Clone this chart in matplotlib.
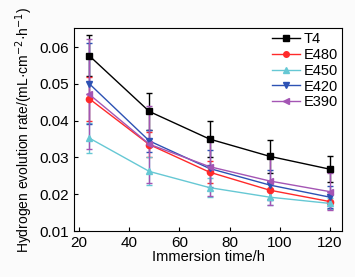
import matplotlib
matplotlib.use("Agg")
import matplotlib.pyplot as plt
from matplotlib.lines import Line2D

plt.rcParams.update({
    "font.family": ["Liberation Sans", "DejaVu Sans"],
    "font.size": 10,
    "xtick.direction": "in",
    "ytick.direction": "in",
    "axes.linewidth": 0.8,
})

times = [24, 48, 72, 96, 120]

t4 = [0.0577, 0.0425, 0.0350, 0.0303, 0.0268]
t4_err = [0.0055, 0.0050, 0.0050, 0.0045, 0.0035]

e480 = [0.0460, 0.0335, 0.0260, 0.0211, 0.0180]
e480_err = [0.0060, 0.0035, 0.0030, 0.0025, 0.0020]

e450 = [0.0353, 0.0262, 0.0218, 0.0192, 0.0175]
e450_err = [0.0042, 0.0038, 0.0025, 0.0020, 0.0015]

e420 = [0.0501, 0.0345, 0.0270, 0.0225, 0.0192]
e420_err = [0.0110, 0.0030, 0.0050, 0.0040, 0.0030]

e390 = [0.0472, 0.0336, 0.0275, 0.0236, 0.0207]
e390_err = [0.0150, 0.0105, 0.0080, 0.0065, 0.0050]

series = [
    ("T4", t4, t4_err, "black", "s"),
    ("E480", e480, e480_err, "#ff2a2a", "o"),
    ("E450", e450, e450_err, "#66c8d4", "^"),
    ("E420", e420, e420_err, "#2d52b4", "v"),
    ("E390", e390, e390_err, "#a455b4", "<"),
]

fig = plt.figure(figsize=(3.55, 2.77), dpi=100)
fig.patch.set_facecolor("#fbfbfb")
ax = fig.add_axes([0.2085, 0.166, 0.755, 0.733])

handles = []
for label, vals, errs, color, marker in series:
    ax.errorbar(times, vals, yerr=errs, color=color, marker=marker,
                markersize=4.5, linewidth=1.0, elinewidth=1.0,
                capsize=2.5, capthick=1.0)
    handles.append(Line2D([], [], color=color, marker=marker,
                          markersize=4, linewidth=1.0, label=label))

ax.set_xlim(18, 124.8)
ax.set_ylim(0.01, 0.0652)
ax.set_xticks([20, 40, 60, 80, 100, 120])
ax.set_yticks([0.01, 0.02, 0.03, 0.04, 0.05, 0.06])
ax.set_yticklabels(["0.01", "0.02", "0.03", "0.04", "0.05", "0.06"])
ax.tick_params(length=3, width=0.8, labelsize=11)

ax.set_xlabel("Immersion time/h", fontsize=10.5, labelpad=0)
ax.set_ylabel("Hydrogen evolution rate/(mL·cm$^{-2}$·h$^{-1}$)", fontsize=10,
              labelpad=3)

ax.legend(handles=handles, loc="upper right", frameon=False, fontsize=10.5,
          handlelength=1.9, handletextpad=0.25, labelspacing=0.12,
          borderaxespad=0.1, borderpad=0.2)

fig.savefig("out.png", dpi=100, facecolor=fig.get_facecolor())
